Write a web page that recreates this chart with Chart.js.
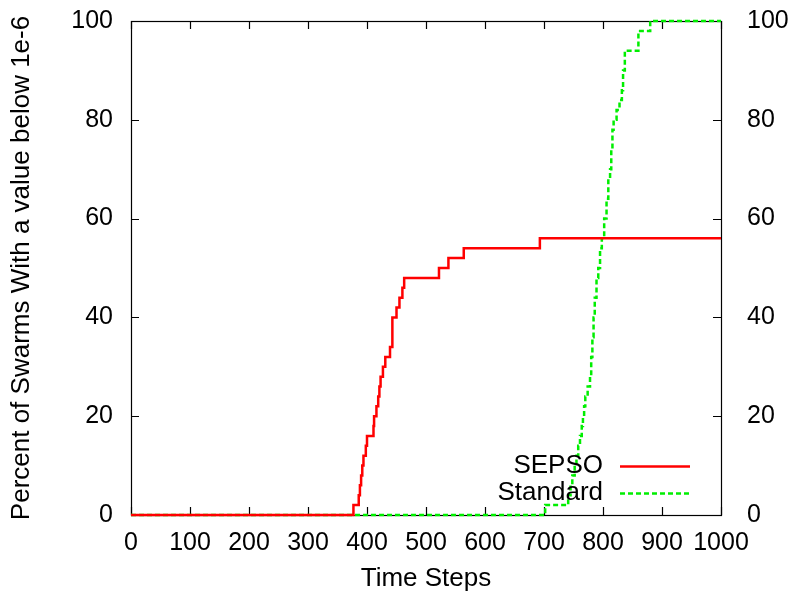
<!DOCTYPE html>
<html>
<head>
<meta charset="utf-8">
<script src="https://cdn.jsdelivr.net/npm/chart.js@4.4.1/dist/chart.umd.min.js"></script>
<style>
  html, body { margin: 0; padding: 0; background: #fff; }
  #wrap { width: 792px; height: 594px; }
</style>
</head>
<body>
<div id="wrap"><canvas id="c" width="792" height="594"></canvas></div>
<script>
// ---- data ----
const seriesNames = ["SEPSO", "Standard"];
const xLabel = "Time Steps";
const yLabel = "Percent of Swarms With a value below 1e-6";
const xTickValues = [0, 100, 200, 300, 400, 500, 600, 700, 800, 900, 1000];
const yTickValues = [0, 20, 40, 60, 80, 100];

// step positions (time step at which the percentage changes) and new values
const sepsoSteps  = [0, 377, 386, 388, 390, 392, 394, 398, 400, 411, 412, 416, 419, 421, 423, 427, 431, 439, 443, 450, 455, 460, 463, 522, 538, 564, 693, 1000];
const sepsoValues = [0,   2,   4,   6,   8,  10,  12,  14,  16,  18,  20,  22,  24,  26,  28,  30,  32,  34,  40,  42,  44,  46,  48,  50,  52,  54,  56,   56];

const standardSteps  = [0, 702, 741, 745, 748, 752, 755, 758, 761, 764, 766, 768, 770, 774, 778, 780, 782, 784, 786, 789, 792, 795, 798, 802, 806, 809, 812, 814, 816, 818, 823, 828, 832, 834, 837, 860, 880, 1000];
const standardValues = [0,   2,   4,   6,   8,  10,  12,  14,  16,  18,  20,  22,  24,  26,  28,  32,  36,  40,  44,  48,  50,  54,  56,  60,  64,  68,  70,  74,  78,  80,  82,  84,  86,  90,  94,  98, 100,  100];

const FONT = "'Liberation Sans', Arial, Helvetica, sans-serif";
const FS = 26;
const TFS = 25;

function pts(xs, ys) { return xs.map((x, i) => ({ x: x, y: ys[i] })); }

const framePlugin = {
  id: 'frame',
  beforeDatasetsDraw(chart) {
    const { ctx, chartArea: a, scales } = chart;
    ctx.save();
    ctx.strokeStyle = '#000';
    ctx.lineWidth = 1.2;
    ctx.strokeRect(Math.round(a.left) + 0.5, Math.round(a.top) + 0.5,
                   Math.round(a.right - a.left), Math.round(a.bottom - a.top));
    const tl = 8;
    ctx.beginPath();
    xTickValues.forEach(v => {
      const px = Math.round(scales.x.getPixelForValue(v)) + 0.5;
      ctx.moveTo(px, a.bottom); ctx.lineTo(px, a.bottom - tl);
      ctx.moveTo(px, a.top); ctx.lineTo(px, a.top + tl);
    });
    yTickValues.forEach(v => {
      const py = Math.round(scales.y.getPixelForValue(v)) + 0.5;
      ctx.moveTo(a.left, py); ctx.lineTo(a.left + tl, py);
      ctx.moveTo(a.right, py); ctx.lineTo(a.right - tl, py);
    });
    ctx.stroke();
    ctx.restore();
  },
  afterDraw(chart) {
    const { ctx, chartArea: a } = chart;
    ctx.save();
    ctx.fillStyle = '#000';
    ctx.font = FS + 'px ' + FONT;
    // axis titles
    ctx.textAlign = 'center';
    ctx.textBaseline = 'middle';
    ctx.fillText(xLabel, (a.left + a.right) / 2, 579);
    ctx.save();
    ctx.translate(22, (a.top + a.bottom) / 2);
    ctx.rotate(-Math.PI / 2);
    ctx.fillText(yLabel, 0, 0);
    ctx.restore();
    // legend
    const rows = [466, 493];
    chart.data.datasets.forEach((ds, i) => {
      const y = rows[i];
      ctx.textAlign = 'right';
      ctx.textBaseline = 'middle';
      ctx.fillStyle = '#000';
      ctx.fillText(ds.label, 603, y);
      ctx.beginPath();
      ctx.strokeStyle = ds.borderColor;
      ctx.lineWidth = ds.borderWidth;
      ctx.setLineDash(ds.borderDash || []);
      ctx.moveTo(620, y + 0.5);
      ctx.lineTo(690, y + 0.5);
      ctx.stroke();
      ctx.setLineDash([]);
    });
    ctx.restore();
  }
};

const tickFmt = v => String(v);
function fitY(w) {
  return function (s) { s.width = w; s.paddingTop = 0; s.paddingBottom = 0; };
}

new Chart(document.getElementById('c'), {
  type: 'line',
  data: {
    datasets: [
      {
        label: seriesNames[0],
        data: pts(sepsoSteps, sepsoValues),
        borderColor: '#ff0000',
        borderWidth: 2.5,
        stepped: 'before',
        pointRadius: 0,
        fill: false,
        clip: 6
      },
      {
        label: seriesNames[1],
        data: pts(standardSteps, standardValues),
        borderColor: '#00ee00',
        borderWidth: 2.5,
        borderDash: [5, 3],
        stepped: 'before',
        pointRadius: 0,
        fill: false,
        clip: 6
      }
    ]
  },
  options: {
    responsive: false,
    animation: false,
    devicePixelRatio: 1,
    layout: { padding: { top: 21, left: 0, right: 0, bottom: 0 } },
    plugins: { legend: { display: false }, tooltip: { enabled: false }, title: { display: false } },
    scales: {
      x: {
        type: 'linear', min: 0, max: 1000,
        grid: { display: false, drawTicks: false },
        border: { display: false },
        afterBuildTicks(s) { s.ticks = xTickValues.map(v => ({ value: v })); },
        afterFit(s) { s.height = 79; s.paddingLeft = 0; s.paddingRight = 0; },
        ticks: { color: '#000', font: { family: FONT, size: TFS }, padding: 13, maxRotation: 0, autoSkip: false, callback: tickFmt }
      },
      y: {
        type: 'linear', position: 'left', min: 0, max: 100,
        grid: { display: false, drawTicks: false },
        border: { display: false },
        afterBuildTicks(s) { s.ticks = yTickValues.map(v => ({ value: v })); },
        afterFit: fitY(131),
        ticks: { color: '#000', font: { family: FONT, size: TFS }, padding: 18, callback: tickFmt }
      },
      y2: {
        type: 'linear', position: 'right', min: 0, max: 100,
        grid: { display: false, drawTicks: false },
        border: { display: false },
        afterBuildTicks(s) { s.ticks = yTickValues.map(v => ({ value: v })); },
        afterFit: fitY(71),
        ticks: { color: '#000', font: { family: FONT, size: TFS }, padding: 26, callback: tickFmt }
      }
    }
  },
  plugins: [framePlugin]
});
</script>
</body>
</html>
